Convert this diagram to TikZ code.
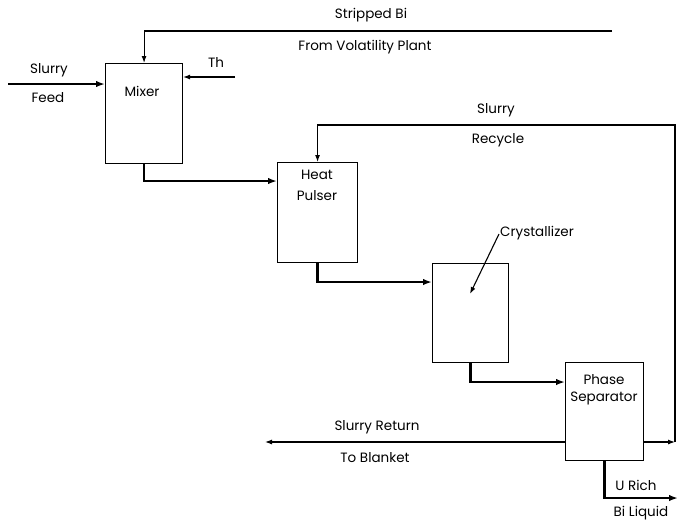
\documentclass[tikz,border=0pt]{standalone}
\usepackage{fontspec}
\setmainfont{Poppins}
\usetikzlibrary{arrows.meta, positioning}

\begin{document}
\begin{tikzpicture}[x=1pt, y=-1pt,
    unit/.style={rectangle, draw, line width=1.1pt, anchor=north west, inner sep=0pt},
    flow/.style={-{Latex[length=7pt,width=5pt]}, line width=1.1pt},
    main/.style={-{Latex[length=9pt,width=6.5pt]}, line width=2.8pt},
    lbl/.style={font=\fontsize{13.5}{15}\selectfont, inner sep=0pt}
]
\useasboundingbox (0,0) rectangle (678,523);

% process units
\node[unit, minimum width=77pt, minimum height=100pt] (mixer) at (105,63) {};
\node[unit, minimum width=80pt, minimum height=100pt] (pulser) at (277,162) {};
\node[unit, minimum width=76pt, minimum height=99pt] (cryst) at (432,263) {};
\node[unit, minimum width=78pt, minimum height=98pt] (sep) at (565,362) {};

\node[lbl] (mixerlbl) at (142,91) {Mixer};
\node[lbl] (heatlbl) at (317,175) {Heat};
\node[lbl] (pulserlbl) at (317,196) {Pulser};
\node[lbl] (phaselbl) at (604,380) {Phase};
\node[lbl] (seplbl) at (604,398) {Separator};
\node[lbl, anchor=west] (crystlbl) at (500,233) {Crystallizer};

% free ends
\coordinate (feedin) at (8,84);
\coordinate (thin) at (235,77);
\coordinate (bi) at (612,31);
\coordinate (rcy) at (675,442);
\coordinate (ret) at (265,442);
\coordinate (urich) at (678,498);
\coordinate (crysttip) at (470,294);

% main slurry stream
\draw[main] (feedin) -- (feedin -| mixer.west);
\draw[main] (mixer.south) |- ([yshift=-19pt]pulser.north west);
\draw[main] (pulser.south) |- ([yshift=-19pt]cryst.north west);
\draw[main] (cryst.south) |- ([yshift=-20pt]sep.north west);
\draw[main] (sep.south) |- (urich);

% side streams
\draw[flow] (thin) -- (thin -| mixer.east);
\draw[flow] (bi) -| (mixer.north);
\draw[flow] (sep.east |- rcy) -- (rcy);
\draw[flow] (rcy) -- ++(0,-317) -| (pulser.north);
\draw[flow] (sep.west |- ret) -- (ret);
\draw[flow] ([xshift=-1pt,yshift=-1pt]crystlbl.west) -- (crysttip);

% stream labels
\node[lbl] (slurryin) at (49,70) {Slurry};
\node[lbl] (feedlbl) at (48,98) {Feed};
\node[lbl] (thlbl) at (216,62) {Th};
\node[lbl] (strippedlbl) at (371,15) {Stripped Bi};
\node[lbl] (volatlbl) at (365,47) {From Volatility Plant};
\node[lbl] (slurryrcy) at (496,110) {Slurry};
\node[lbl] (recyclelbl) at (498,140) {Recycle};
\node[lbl] (returnlbl) at (377,427) {Slurry Return};
\node[lbl] (blanketlbl) at (375,458) {To Blanket};
\node[lbl] (urichlbl) at (636,485) {U Rich};
\node[lbl] (biliqlbl) at (641,513) {Bi Liquid};
\end{tikzpicture}
\end{document}
